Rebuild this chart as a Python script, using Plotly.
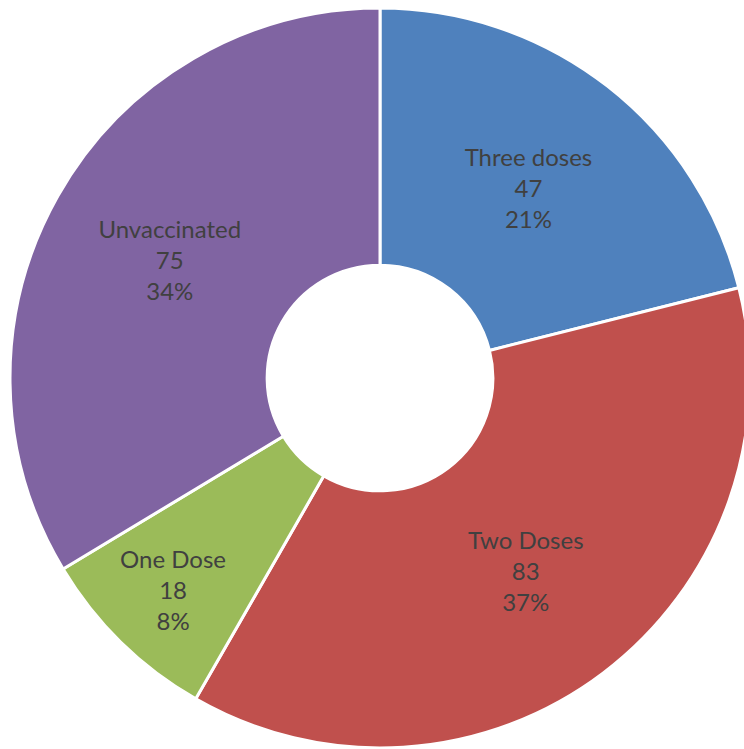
import plotly.graph_objects as go

# Vaccination status counts
labels = ["Three doses", "Two Doses", "One Dose", "Unvaccinated"]
counts = [47, 83, 18, 75]
colors = ["#4F81BD", "#C0504D", "#9BBB59", "#8064A2"]

W, H = 760, 760

fig = go.Figure(
    go.Pie(
        labels=labels,
        values=counts,
        sort=False,
        direction="clockwise",
        rotation=0,
        hole=0.305,
        marker=dict(colors=colors, line=dict(color="white", width=3)),
        texttemplate="%{label}<br>%{value}<br>%{percent:.0%}",
        textposition="inside",
        insidetextorientation="horizontal",
        textfont=dict(family="Lato, Open Sans, sans-serif", size=24, color="#404040"),
        domain=dict(x=[10 / W, 750 / W], y=[12 / H, 1 - 8 / H]),
        showlegend=False,
        hoverinfo="label+value+percent",
    )
)

fig.update_layout(
    width=W,
    height=H,
    margin=dict(l=0, r=0, t=0, b=0),
    paper_bgcolor="white",
    plot_bgcolor="white",
)

fig.write_html(
    "out.html",
    post_script="document.body.style.margin='0';document.body.style.overflow='hidden';",
)
